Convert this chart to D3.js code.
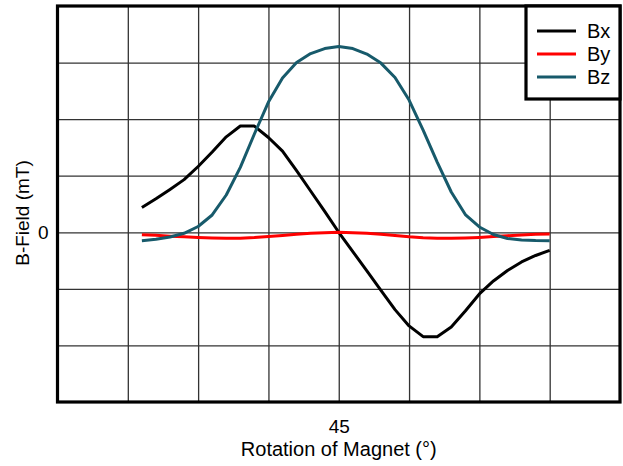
<!DOCTYPE html>
<html>
<head>
<meta charset="utf-8">
<script src="https://cdn.jsdelivr.net/npm/d3@7"></script>
<style>
  html, body { margin: 0; padding: 0; background: #fff; }
  svg { display: block; }
  text { font-family: "Liberation Sans", Arial, sans-serif; fill: #000; }
</style>
</head>
<body>
<svg id="chart" width="623" height="466"></svg>
<script>
// ---- data ----
const angles = [13.5, 15.75, 18, 20.25, 22.5, 24.75, 27, 29.25, 31.5, 33.75, 36, 38.25, 40.5, 42.75, 45,
  47.25, 49.5, 51.75, 54, 56.25, 58.5, 60.75, 63, 65.25, 67.5, 69.75, 72, 74.25, 76.5, 78.75];
const bx = [4.38, 5.92, 7.58, 9.31, 11.63, 14.19, 16.87, 18.78, 18.78, 16.75, 14.36, 10.9, 7.3, 3.69, 0,
  -3.41, -6.84, -10.25, -13.67, -16.55, -18.45, -18.45, -16.73, -13.9, -10.9, -8.6, -6.75, -5.25, -4.1, -3.2];
const by = [-0.42, -0.53, -0.69, -0.81, -0.92, -1.0, -1.06, -1.04, -0.94, -0.74, -0.55, -0.35, -0.19, -0.07, 0,
  -0.07, -0.19, -0.35, -0.58, -0.81, -0.97, -1.04, -1.06, -1.0, -0.9, -0.76, -0.6, -0.46, -0.35, -0.3];
const bz = [-1.48, -1.24, -0.83, -0.18, 1.02, 3.06, 6.59, 11.48, 17.37, 23.02, 27.26, 30.0, 31.59, 32.47, 32.83,
  32.47, 31.5, 29.91, 27.35, 23.37, 18.07, 12.42, 7.12, 3.14, 0.94, -0.39, -1.1, -1.36, -1.45, -1.48];
const seriesNames = ["Bx", "By", "Bz"];
const seriesColors = ["#000000", "#ff0000", "#175a6b"];
const xGridTicks = [11.25, 22.5, 33.75, 45, 56.25, 67.5, 78.75];
const xTickLabels = [45];
const yGridTicks = [-20, -10, 0, 10, 20, 30];
const yTickLabels = [0];
const xTitle = "Rotation of Magnet (°)";
const yTitle = "B-Field (mT)";

// ---- layout ----
const L = 57.5, R = 620, T = 6, B = 402;
const svg = d3.select("#chart");
const x = d3.scaleLinear().domain([0, 90]).range([L, R]);
const y = d3.scaleLinear().domain([-30, 40]).range([B, T]);

// grid
svg.append("g").attr("transform", `translate(0,${B})`)
  .call(d3.axisBottom(x).tickValues(xGridTicks).tickSize(-(B - T)).tickFormat(""))
  .call(g => g.select(".domain").remove())
  .call(g => g.selectAll("line").attr("stroke", "#333").attr("stroke-width", 1.3));
svg.append("g").attr("transform", `translate(${L},0)`)
  .call(d3.axisLeft(y).tickValues(yGridTicks).tickSize(-(R - L)).tickFormat(""))
  .call(g => g.select(".domain").remove())
  .call(g => g.selectAll("line").attr("stroke", "#333").attr("stroke-width", 1.3));

// tick labels
svg.append("g").attr("transform", `translate(0,${B})`)
  .call(d3.axisBottom(x).tickValues(xTickLabels).tickSize(0).tickPadding(17.5).tickFormat(d3.format("d")))
  .call(g => g.select(".domain").remove())
  .call(g => g.selectAll("text").attr("font-size", 19).attr("font-family", "Liberation Sans, Arial, sans-serif").attr("fill", "#000"));
svg.append("g").attr("transform", `translate(${L},0)`)
  .call(d3.axisLeft(y).tickValues(yTickLabels).tickSize(0).tickPadding(9).tickFormat(d3.format("d")))
  .call(g => g.select(".domain").remove())
  .call(g => g.selectAll("text").attr("font-size", 19).attr("font-family", "Liberation Sans, Arial, sans-serif").attr("fill", "#000"));

// lines
const allSeries = [bx, by, bz];
const line = d3.line().x((d, i) => x(angles[i])).y(d => y(d));
allSeries.forEach((s, k) => {
  svg.append("path").datum(s).attr("d", line)
    .attr("fill", "none").attr("stroke", seriesColors[k]).attr("stroke-width", 3)
    .attr("stroke-linejoin", "round");
});

// frame
svg.append("rect").attr("x", L).attr("y", T).attr("width", R - L).attr("height", B - T)
  .attr("fill", "none").attr("stroke", "#000").attr("stroke-width", 3.2);

// legend
const lg = svg.append("g");
lg.append("rect").attr("x", 526).attr("y", T).attr("width", R - 526).attr("height", 93)
  .attr("fill", "#fff").attr("stroke", "#000").attr("stroke-width", 3.2);
seriesNames.forEach((n, k) => {
  const yy = 31 + k * 23;
  lg.append("line").attr("x1", 537).attr("x2", 576).attr("y1", yy).attr("y2", yy)
    .attr("stroke", seriesColors[k]).attr("stroke-width", 3);
  lg.append("text").attr("x", 587).attr("y", yy + 7).attr("font-size", 20).text(n);
});

// titles
svg.append("text").attr("x", x(45)).attr("y", 456).attr("text-anchor", "middle")
  .attr("font-size", 20).text(xTitle);
svg.append("text").attr("transform", `translate(29,213) rotate(-90)`).attr("text-anchor", "middle")
  .attr("font-size", 19).text(yTitle);
</script>
</body>
</html>
